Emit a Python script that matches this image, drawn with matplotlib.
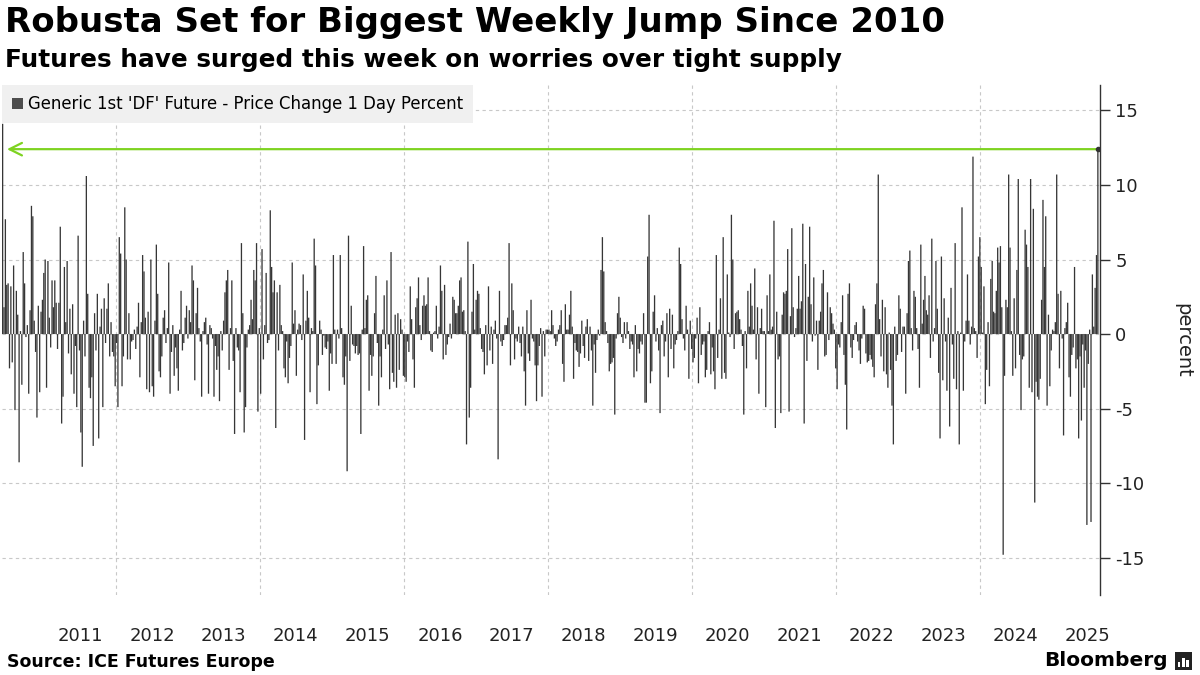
import matplotlib
matplotlib.use("Agg")
import matplotlib.pyplot as plt
from matplotlib.patches import Patch, Rectangle
import pandas as pd
import numpy as np

# ---------------- data (weekly % change) ----------------
chg_part1 = [14.1, 1.8, 7.7, 3.3, 3.4, -2.3, 3.2, -1.9, 4.6, -5.1,
             2.9, 1.3, -8.6, 0.2, -3.4, 5.5, 3.4, -0.2, 0.6, -4.0,
             1.6, 8.6, 7.9, 0.9, -1.2, -5.6, 1.9, -3.9, 1.5, 2.3,
             4.1, 5.0, -3.6, 4.9, 1.1, -0.9, 3.6, 1.8, 3.6, 2.1,
             -1.0, 2.1, 7.2, -6.0, -4.2, 4.5, 0.8, 4.9, -1.3, 1.7,
             -2.7, 2.0, -4.0, -0.8, -4.9, 6.6, -1.1, -6.6, -8.9, 0.9,
             -1.5, 10.6, 2.7, -3.6, -4.3, -2.9, -7.5, 1.4, -1.1, 2.7,
             -7.0, 0.5, 1.7, -4.9, 2.4, -0.6, 1.7, 3.4, -1.5, 0.8]
chg_part2 = [-1.2, -1.5, -3.5, -0.6, -4.9, 6.5, 5.4, -3.5, -1.5, 8.5,
             5.0, -1.7, 1.4, -1.7, -0.5, -0.4, 0.3, -1.0, 0.5, 2.1,
             -2.9, 0.8, 5.3, 4.2, 1.1, -3.7, 1.5, -3.9, 5.0, -3.5,
             -4.2, 0.9, 6.0, 2.7, -2.5, -2.9, -1.5, 1.1, 1.6, -0.6,
             0.4, 4.8, -4.0, -1.2, 0.6, -2.8, -0.9, -2.3, -3.8, 0.3,
             2.9, -1.1, -0.6, 1.1, 1.9, -0.3, 1.6, 0.8, 4.6, 3.6,
             -3.1, 1.4, 3.1, 0.4, -0.5, -4.2, 0.2, 0.8, 1.1, -0.7,
             -4.0, 0.6, 0.4, -0.3, -4.2, -0.8, -2.4, -1.5, -4.5, 0.2]
chg_part3 = [-1.1, 0.9, 2.8, 3.6, 4.3, -2.4, 0.4, 3.6, -1.8, -6.7,
             0.4, -0.9, -1.1, -3.9, 6.1, 1.4, -6.6, -4.9, -0.9, 0.3,
             0.6, 2.3, 1.0, 4.3, 3.6, 6.1, -5.2, 0.4, -4.0, 5.7,
             -1.7, 0.6, 4.1, -0.6, -0.4, 8.3, 4.5, 2.8, 3.6, -6.3,
             2.8, -1.1, 3.3, 0.6, 0.2, -2.3, -2.9, -0.5, -3.3, -1.6,
             -0.8, 4.8, 0.7, 1.6, -2.8, 0.3, 0.7, 0.6, -0.4, 4.0,
             -7.1, 0.9, 2.9, 1.1, -3.9, 0.4, 0.2, 6.4, 4.6, -4.7,
             -2.1, 0.9, 0.3, -1.4, -0.1, -0.9, -1.0, -0.5, -3.8, -1.3]
chg_part4 = [-2.0, 5.3, 0.3, -2.0, 0.3, -0.3, 5.3, 0.4, -2.9, -3.4,
             -1.5, -9.2, 6.6, -1.8, 1.9, -0.7, -0.8, -1.3, -0.8, -1.4,
             -1.3, -6.7, 0.3, 5.9, 0.4, 2.3, 2.6, -3.8, -1.4, -2.8,
             -1.5, 1.4, 3.9, -0.6, -4.8, -1.5, -2.9, 0.3, 2.6, -1.0,
             3.6, -0.7, -3.7, 5.5, -2.6, -3.2, 1.3, -3.6, 1.4, -2.4,
             1.0, 0.3, -2.8, -2.9, -3.2, -0.5, -1.2, 3.2, 1.0, -1.7,
             -3.6, 1.8, 2.4, 3.8, 0.6, -0.4, 1.9, 2.6, 1.9, 2.0,
             3.8, 0.2, -1.1, -1.2, 0.1, 0.2, 1.9, -0.3, 0.5, 4.6]
chg_part5 = [2.9, -1.7, 3.3, -1.4, -0.7, -0.2, 0.7, -0.3, 2.5, 2.3,
             1.4, 1.4, 1.9, 3.6, 3.8, 1.5, 1.6, 0.2, -7.4, 6.2,
             -5.6, -3.6, 1.5, 4.7, 0.3, 2.3, 2.9, 2.7, 0.4, -1.0,
             -1.2, -2.7, 0.6, -2.1, 3.2, -1.1, 0.5, -2.0, 0.3, 0.9,
             -0.3, -8.4, 2.9, -0.5, -0.8, -0.4, 0.6, 0.6, 1.1, 6.1,
             -2.1, 3.4, 1.6, -1.7, -0.3, -0.5, 0.5, -0.6, -1.5, 0.5,
             -2.5, -4.8, 1.6, -1.3, -1.8, 2.3, -0.3, -0.5, -2.1, -4.5,
             -2.1, -0.8, 0.4, -4.2, 0.2, -1.5, 0.3, 0.3, 0.3, 0.2]
chg_part6 = [1.6, 0.6, -0.3, -0.8, -0.5, 0.3, 0.6, 1.6, -2.0, -3.2,
             2.0, 0.3, 0.3, 1.3, 2.9, 0.5, -3.0, -0.6, -1.1, -1.2,
             -2.2, -1.3, 0.9, -0.8, -1.6, 0.5, 1.0, -1.8, 0.5, -1.1,
             -4.8, -0.7, -2.6, -0.4, 0.3, -0.1, 4.3, 6.5, 4.2, 0.8,
             0.2, -0.6, -2.5, -2.0, -1.9, -1.6, -5.4, -0.3, 1.4, 2.5,
             1.1, -0.2, -0.6, 0.8, -0.3, 0.8, 0.2, -1.0, -0.5, -0.7,
             -2.9, 0.6, -2.5, -1.0, -1.3, -0.5, -0.7, 1.4, -4.6, -4.6,
             5.2, 8.0, -3.3, -2.5, 1.5, 2.6, -0.5, 0.4, -1.1, -5.3]
chg_part7 = [0.6, 0.9, -1.5, -0.5, 1.4, -2.9, 1.7, -1.0, 1.3, -2.3,
             -0.7, -0.4, 0.2, 5.8, 4.7, 1.0, -0.3, -1.1, 1.9, 0.3,
             -3.0, 0.9, -1.0, -1.9, -1.6, -0.3, 1.1, -3.3, 1.8, -1.4,
             -0.7, -0.5, -2.9, -2.4, 0.2, 0.8, -2.7, -0.9, -2.5, -3.7,
             5.3, -1.6, 0.3, 2.4, -3.0, 6.5, -2.6, -3.0, 4.0, 0.1,
             -0.2, 8.0, 5.0, -1.0, 1.4, 1.5, 1.6, 1.0, 0.3, -0.8,
             -5.4, 0.2, -2.3, 2.9, 0.5, 3.4, 1.9, 0.3, 4.4, -1.7,
             1.8, -4.0, 0.4, 1.7, 0.2, 0.2, -4.9, 2.6, 0.2, 4.0]
chg_part8 = [0.3, 0.5, 7.6, -6.3, 1.5, -1.7, -1.5, -5.3, 1.3, 2.8,
             2.7, 2.9, 5.7, -5.2, 1.2, 7.1, 1.8, -0.2, 0.4, 1.7,
             3.9, 1.7, 2.2, 7.4, -6.0, 4.7, -1.8, 2.5, 7.2, 2.0,
             -0.5, 3.8, -0.1, 0.9, -2.4, 0.9, 1.5, 3.4, 4.3, -1.5,
             -1.4, 2.8, -0.4, 1.8, 1.4, 0.7, 0.3, -2.3, -3.7, -0.7,
             -0.9, 0.8, 2.6, -1.4, -3.4, -6.4, 2.7, 3.4, -0.9, -1.6,
             -0.4, 0.6, 0.8, -0.5, -1.1, -2.0, -0.3, 1.9, 1.7, -1.3,
             -1.9, -1.8, -1.4, -1.7, -2.2, -2.9, 2.0, 3.4, 10.7, 1.0]
chg_part9 = [-1.5, 2.3, -2.5, 1.8, -2.7, -3.6, 0.1, -2.4, -4.8, -7.4,
             0.5, -1.8, -1.4, 2.6, 1.7, -1.2, 0.5, 0.5, -4.0, 1.4,
             4.9, 5.6, 0.4, -1.1, 2.9, 2.5, 0.4, -1.0, -3.6, 6.0,
             0.7, 2.3, 3.9, 1.6, 1.3, 2.6, -1.6, 6.4, -0.5, 0.4,
             4.9, 1.7, -2.6, -7.0, 5.2, -3.1, 2.4, -0.5, -3.8, 1.1,
             -6.2, 3.1, -0.7, -3.0, 6.1, -3.7, 0.2, -7.4, 0.1, 8.5,
             -3.8, -0.5, 0.9, 4.0, 0.9, -0.7, 0.5, 11.9, 0.4, 0.2,
             -1.6, 5.2, 6.5, 4.5, 0.1, 3.2, -4.7, -2.4, 0.8, -3.5]
chg_part10 = [3.7, 4.9, 1.5, 1.4, 2.9, 5.8, 4.8, 5.9, 1.8, -14.8,
              -2.8, 2.3, 1.8, 10.7, 5.8, 0.2, -2.8, 2.4, -2.3, 4.3,
              10.4, -1.4, -5.1, -1.7, -1.5, 7.0, 6.0, 4.5, -3.6, 10.4,
              -3.9, 8.4, -11.3, -3.2, -4.2, -4.4, -3.0, 2.3, 9.0, 4.5,
              7.9, -4.8, 1.3, -3.5, -1.1, 0.3, 0.2, 0.8, 10.7, 2.7,
              -2.3, 2.9, -0.3, -6.8, 0.4, 0.8, 2.1, -2.9, -4.2, -1.4,
              -0.9, 4.5, -2.3, -1.7, -7.0, -1.5, -5.8, -0.7, -3.6, -1.1,
              -12.8, -2.0, 0.3, -12.6, 4.0, 0.5, 3.1, 5.3, 12.4]

first_week = "2010-06-04"
last_week = "2025-08-22"
year_labels = list(range(2011, 2026))
y_ticks = [-15, -10, -5, 0, 5, 10, 15]

title = "Robusta Set for Biggest Weekly Jump Since 2010"
subtitle = "Futures have surged this week on worries over tight supply"
series_name = "Generic 1st 'DF' Future - Price Change 1 Day Percent"
source = "Source: ICE Futures Europe"

# ---------------- build ----------------
values = np.array(chg_part1 + chg_part2 + chg_part3 + chg_part4 + chg_part5 +
                  chg_part6 + chg_part7 + chg_part8 + chg_part9 + chg_part10)
dates = pd.date_range(first_week, last_week, periods=len(values))

BAR = "#363636"
LEG_BAR = "#4d4d4d"
GREEN = "#7ed321"
GRID = "#c8c8c8"

fig = plt.figure(figsize=(12, 6.75), dpi=100)
ax = fig.add_axes([0.0017, 0.1185, 0.915, 0.7555])

bars = ax.bar(dates, values, width=6.6, color=BAR, linewidth=0, zorder=2)
for b in bars:
    b.set_snap(False)

ax.set_ylim(-17.5, 16.7)
ax.set_xlim(dates[0] - pd.Timedelta(days=3), dates[-1] + pd.Timedelta(days=11))

# grid
for y in y_ticks:
    ax.axhline(y, color=GRID, lw=0.8, ls=(0, (3, 3)), zorder=1)
for yr in range(2012, 2026, 2):
    ax.axvline(pd.Timestamp(f"{yr}-01-01"), color=GRID, lw=0.8, ls=(0, (3, 3)), zorder=1)

# axes styling
for s in ["top", "left", "bottom"]:
    ax.spines[s].set_visible(False)
ax.spines["right"].set_color("#333333")
ax.spines["right"].set_linewidth(1.0)
ax.yaxis.tick_right()
ax.set_yticks(y_ticks)
ax.set_yticklabels([str(t) for t in y_ticks])
ax.tick_params(axis="y", length=7, width=1, color="#333333", pad=4, labelsize=13, labelcolor="#222222")
ax.set_xticks([pd.Timestamp(f"{y}-07-01") for y in year_labels])
ax.set_xticklabels([str(y) for y in year_labels])
ax.tick_params(axis="x", length=0, pad=23, labelsize=13, labelcolor="#222222")
ax.yaxis.set_label_position("right")
ax.set_ylabel("percent", rotation=270, fontsize=14, labelpad=34, color="#222222")

# green arrow at the latest value
last_val = values[-1]
ax.annotate("", xy=(dates[0] + pd.Timedelta(days=22), last_val),
            xytext=(dates[-1], last_val),
            arrowprops=dict(arrowstyle="->,head_length=0.9,head_width=0.45",
                            color=GREEN, lw=1.6, shrinkA=0, shrinkB=0), zorder=4)
ax.plot([dates[-1]], [last_val], marker="o", ms=3, color="#333333", zorder=5)

# legend
leg = ax.legend(handles=[Patch(facecolor=LEG_BAR, edgecolor="none", label=series_name)],
                loc="upper left", bbox_to_anchor=(0.0, 1.0), borderaxespad=0.0,
                frameon=True, fancybox=False, fontsize=11.9, handlelength=0.65,
                handleheight=0.65, handletextpad=0.3, borderpad=0.6)
leg.get_frame().set_facecolor("#f0f0f0")
leg.get_frame().set_edgecolor("none")
leg.get_frame().set_alpha(1.0)
leg.set_zorder(10)

# texts
fig.text(0.004, 0.966, title, fontsize=24.5, fontweight="bold", va="center", ha="left", color="#000000")
fig.text(0.004, 0.911, subtitle, fontsize=17.8, fontweight="bold", va="center", ha="left", color="#000000")
fig.text(0.006, 0.019, source, fontsize=12.5, fontweight="bold", va="center", ha="left", color="#000000")
fig.text(0.973, 0.021, "Bloomberg", fontsize=14.5, fontweight="bold", va="center", ha="right", color="#000000")
fig.patches.append(Rectangle((0.979, 0.008), 0.014, 0.026, transform=fig.transFigure,
                             facecolor="#222222", edgecolor="none"))
for i, h in enumerate([0.008, 0.013, 0.010]):
    fig.patches.append(Rectangle((0.9815 + i * 0.0035, 0.012), 0.0022, h, transform=fig.transFigure,
                                 facecolor="white", edgecolor="none"))

fig.savefig("out.png", dpi=100)
